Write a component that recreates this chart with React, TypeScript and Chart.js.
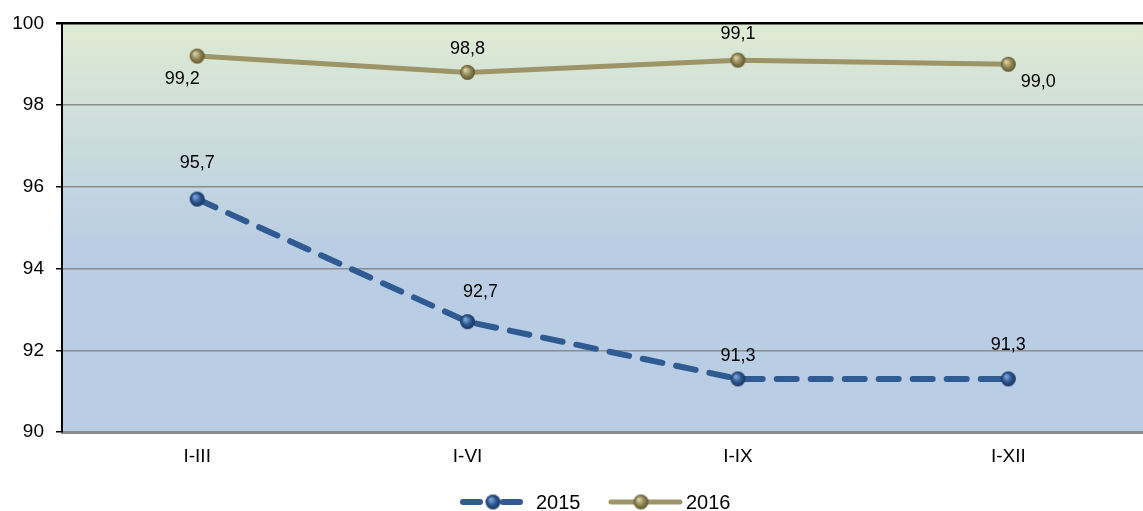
import React, { useEffect, useRef } from "react";
import { Chart, registerables } from "chart.js";

Chart.register(...registerables);

const categories = ["I-III", "I-VI", "I-IX", "I-XII"];
const series2015 = [95.7, 92.7, 91.3, 91.3];
const series2016 = [99.2, 98.8, 99.1, 99.0];
const yTicks = [90, 92, 94, 96, 98, 100];
// data-label offsets (pixels) from each point
const labelOffset2015 = [[0, -36], [13, -30], [0, -23], [0, -34]];
const labelOffset2016 = [[-15, 23], [0, -23], [0, -26], [30, 18]];

const BLUE = "#2f5a92";
const OLIVE = "#9d9467";
const FONT = "'Liberation Sans', Arial, sans-serif";

function makeSphere(dark: string, mid: string, light: string, r: number) {
  const c = document.createElement("canvas");
  const s = r * 2 + 2;
  c.width = s;
  c.height = s;
  const g = c.getContext("2d")!;
  const cx = s / 2;
  const grad = g.createRadialGradient(cx - r * 0.3, cx - r * 0.35, r * 0.1, cx, cx, r);
  grad.addColorStop(0, light);
  grad.addColorStop(0.55, mid);
  grad.addColorStop(1, dark);
  g.fillStyle = grad;
  g.beginPath();
  g.arc(cx, cx, r, 0, Math.PI * 2);
  g.fill();
  return c;
}

const fmt = (v: number) => v.toFixed(1).replace(".", ",");

export default function App() {
  const ref = useRef<HTMLCanvasElement>(null);
  useEffect(() => {
    document.body.style.margin = "0";
    const blueSphere = makeSphere("#17335c", "#2c5690", "#7fa3d6", 7.5);
    const oliveSphere = makeSphere("#5e552c", "#8f8454", "#d8d1a4", 7.5);

    const bgPlugin = {
      id: "bg",
      beforeDraw(chart: any) {
        const { ctx, chartArea: a } = chart;
        const grad = ctx.createLinearGradient(0, a.top, 0, a.bottom);
        grad.addColorStop(0, "#dfebd3");
        grad.addColorStop(0.55, "#b9cde4");
        grad.addColorStop(1, "#b9cde4");
        ctx.save();
        ctx.fillStyle = grad;
        ctx.fillRect(a.left, a.top, a.right - a.left, a.bottom - a.top);
        ctx.restore();
      },
    };

    const labelsPlugin = {
      id: "dl",
      afterDatasetsDraw(chart: any) {
        const { ctx } = chart;
        ctx.save();
        ctx.font = `18px ${FONT}`;
        ctx.fillStyle = "#000";
        ctx.textAlign = "center";
        ctx.textBaseline = "middle";
        const sets = [
          { i: 0, data: series2015, off: labelOffset2015 },
          { i: 1, data: series2016, off: labelOffset2016 },
        ];
        sets.forEach(({ i, data, off }) => {
          const meta = chart.getDatasetMeta(i);
          meta.data.forEach((pt: any, j: number) => {
            ctx.fillText(fmt(data[j]), pt.x + off[j][0], pt.y + off[j][1]);
          });
        });
        ctx.restore();
      },
      afterDraw(chart: any) {
        const { ctx } = chart;
        const y = 502;
        ctx.save();
        ctx.lineCap = "round";
        // 2015
        ctx.strokeStyle = BLUE;
        ctx.lineWidth = 6;
        ctx.beginPath();
        ctx.moveTo(463, y);
        ctx.lineTo(480, y);
        ctx.moveTo(503, y);
        ctx.lineTo(520, y);
        ctx.stroke();
        ctx.drawImage(blueSphere, 493 - 8.5, y - 8.5);
        // 2016
        ctx.strokeStyle = OLIVE;
        ctx.lineWidth = 5;
        ctx.beginPath();
        ctx.moveTo(611, y);
        ctx.lineTo(680, y);
        ctx.stroke();
        ctx.drawImage(oliveSphere, 641 - 8.5, y - 8.5);
        ctx.font = `20px ${FONT}`;
        ctx.fillStyle = "#000";
        ctx.textBaseline = "middle";
        ctx.textAlign = "left";
        ctx.fillText("2015", 536, y + 1);
        ctx.fillText("2016", 686, y + 1);
        ctx.restore();
      },
    };

    const chart = new Chart(ref.current!, {
      type: "line",
      data: {
        labels: categories,
        datasets: [
          {
            label: "2015",
            data: series2015,
            borderColor: BLUE,
            borderWidth: 6,
            borderDash: [20, 14],
            borderCapStyle: "round",
            pointStyle: blueSphere as any,
            pointRadius: 7.5,
            tension: 0,
          },
          {
            label: "2016",
            data: series2016,
            borderColor: OLIVE,
            borderWidth: 5,
            pointStyle: oliveSphere as any,
            pointRadius: 7.5,
            tension: 0,
          },
        ],
      },
      options: {
        animation: false,
        responsive: false,
        layout: { padding: { top: 22, right: 0, left: 0, bottom: 0 } },
        plugins: {
          legend: { display: false },
          tooltip: { enabled: false },
        },
        scales: {
          x: {
            offset: true,
            grid: { display: false, drawTicks: false },
            border: { color: "#8c8c8c", width: 3 },
            ticks: {
              padding: 13,
              color: "#000",
              font: { family: FONT, size: 19 },
            },
            afterFit: (s: any) => { s.height = 79; },
          },
          y: {
            min: 90,
            max: 100,
            afterBuildTicks: (s: any) => { s.ticks = yTicks.map((v) => ({ value: v })); },
            border: { color: "#000", width: 2 },
            grid: {
              color: (c: any) => (c.tick && c.tick.value === 100 ? "#000" : "#8c8c8c"),
              lineWidth: (c: any) => (c.tick && c.tick.value === 100 ? 2.5 : 1.5),
              tickColor: "#000",
              tickLength: 6,
            },
            ticks: {
              padding: 12,
              color: "#000",
              font: { family: FONT, size: 19 },
            },
            afterFit: (s: any) => { s.width = 62; },
          },
        },
      },
      plugins: [bgPlugin, labelsPlugin],
    });
    return () => chart.destroy();
  }, []);
  return (
    <div style={{ width: 1143, height: 511, overflow: "hidden", position: "relative" }}>
      <canvas ref={ref} width={1157} height={511} style={{ display: "block" }} />
    </div>
  );
}
